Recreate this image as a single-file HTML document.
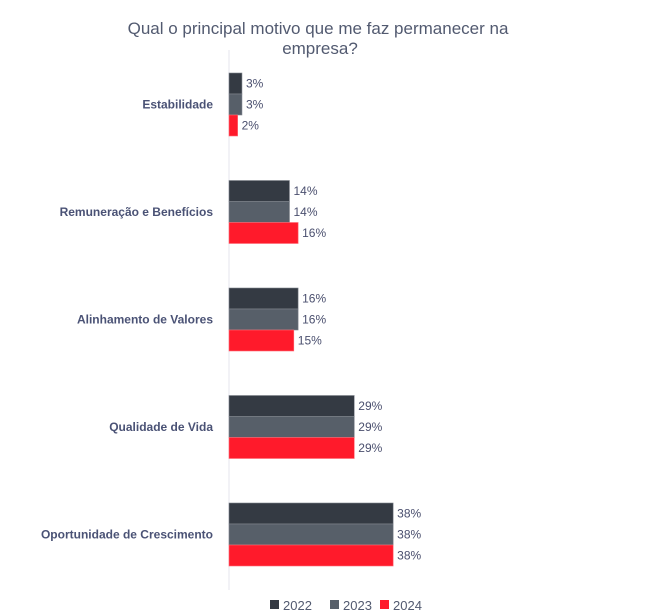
<!DOCTYPE html>
<html><head><meta charset="utf-8"><style>
body{margin:0;background:#fff;}
svg{display:block;font-family:"Liberation Sans",sans-serif;}
</style></head><body>
<svg id="chart" width="664" height="612">
<text x="318" y="34" text-anchor="middle" font-size="17" fill="#525a70">Qual o principal motivo que me faz permanecer na</text>
<text x="320" y="54" text-anchor="middle" font-size="17" fill="#525a70">empresa?</text>
<line x1="229" y1="50" x2="229" y2="590" stroke="#e4e4ec" stroke-width="1"/>
<g id="bars"></g>
<g>
<rect x="270" y="600" width="9" height="9" fill="#343a43"/>
<text x="283" y="610" font-size="13" fill="#525a70">2022</text>
<rect x="330" y="600" width="9" height="9" fill="#575f69"/>
<text x="343" y="610" font-size="13" fill="#525a70">2023</text>
<rect x="380" y="600" width="9" height="9" fill="#ff1a2b"/>
<text x="393" y="610" font-size="13" fill="#525a70">2024</text>
</g>
</svg>
<script>
const categories=["Estabilidade","Remuneração e Benefícios","Alinhamento de Valores","Qualidade de Vida","Oportunidade de Crescimento"];
const years=["2022","2023","2024"];
const values2022=[3,14,16,29,38];
const values2023=[3,14,16,29,38];
const values2024=[2,16,15,29,38];
const colors=["#343a43","#575f69","#ff1a2b"];
const series=[values2022,values2023,values2024];
const x0=229, pxPer=4.32, groupTop=73, groupStep=107.5, barH=21;
function xScale(v){return v*pxPer;}
function yScale(ci,si){return groupTop+ci*groupStep+si*barH;}
const g=document.getElementById('bars');
const ns="http://www.w3.org/2000/svg";
categories.forEach((c,ci)=>{
  const t=document.createElementNS(ns,'text');
  
  
  t.setAttribute('x',213);t.setAttribute('y',yScale(ci,1)+barH/2+4);
  t.setAttribute('text-anchor','end');t.setAttribute('font-size','12');
  t.setAttribute('font-weight','bold');t.setAttribute('fill','#4a5275');
  t.textContent=c;g.appendChild(t);
  series.forEach((vals,si)=>{
    const r=document.createElementNS(ns,'rect');
    
    
    r.setAttribute('x',x0);r.setAttribute('y',yScale(ci,si));
    r.setAttribute('width',xScale(vals[ci]));r.setAttribute('height',barH);
    r.setAttribute('fill',colors[si]);
    r.setAttribute('stroke',si==2?'#ff6a75':'#80858e');r.setAttribute('stroke-width','0.6');
    g.appendChild(r);
    const l=document.createElementNS(ns,'text');
    
    
    l.setAttribute('x',x0+xScale(vals[ci])+4);l.setAttribute('y',yScale(ci,si)+barH/2+4);
    l.setAttribute('font-size','12');l.setAttribute('fill','#4a4f6e');
    l.textContent=vals[ci]+'%';g.appendChild(l);
  });
});
</script>
</body></html>
